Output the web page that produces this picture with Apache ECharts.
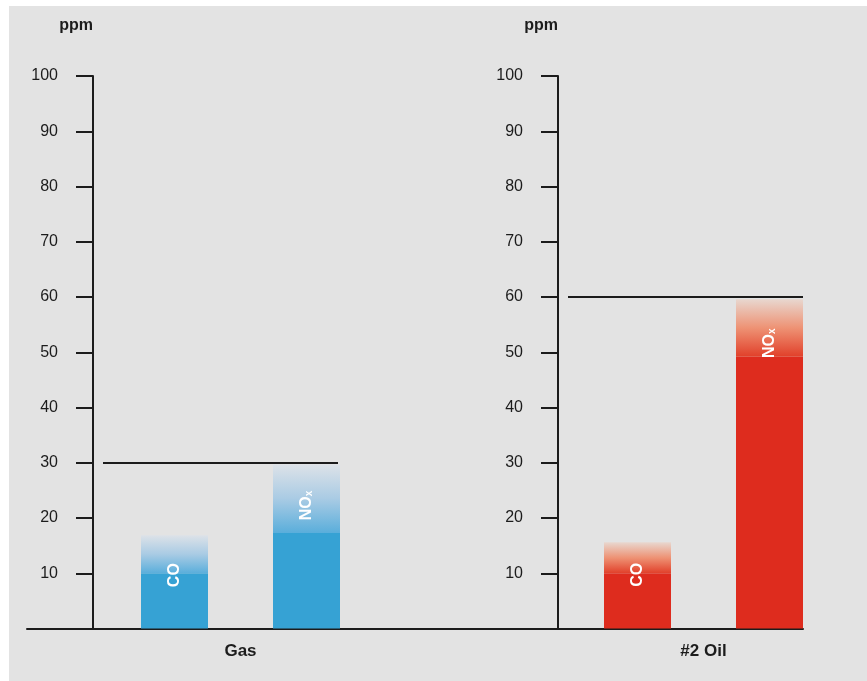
<!DOCTYPE html>
<html><head><meta charset="utf-8">
<script src="https://cdn.jsdelivr.net/npm/echarts@6/dist/echarts.min.js"></script>
<style>
html,body{margin:0;padding:0;background:#fff;}
#bg{position:absolute;left:9px;top:6px;width:858px;height:675px;background:#e3e3e3;}
#chart{position:absolute;left:0;top:0;width:867px;height:681px;}
</style></head><body>
<div id="bg"></div><div id="chart"></div>
<script>
// ---- data ----
const pollutants = ['CO', 'NOx'];
const fuels = ['Gas', '#2 Oil'];
const gasSolid = [10, 17.3];
const gasTop = [16.9, 29.7];
const oilSolid = [10, 49.2];
const oilTop = [15.6, 59.6];
const limits = [30, 60];
const unit = 'ppm';
const yMin = 0, yMax = 100, yStep = 10;

// ---- layout / style ----
const FONT = "'Liberation Sans', Arial, Helvetica, sans-serif";
const INK = '#1c1c1c';
const TOP = 76, BOTTOM = 52.5;
const panels = [
  { solid: gasSolid, top: gasTop, left: 108.5, width: 264, axisOffset: 15.5, limLeft: 103, limWidth: 235, labelY: [40, 41],
    colors: { solid: '#36a2d4', fade: ['#dde2e8', '#a9cbe4', '#5aaedb'] } },
  { solid: oilSolid, top: oilTop, left: 571.5, width: 264, axisOffset: 13.5, limLeft: 568, limWidth: 235, labelY: [32.5, 44],
    colors: { solid: '#de2c1e', fade: ['#e8d7cf', '#ee9274', '#e1402a'] } }
];

const grid = [], xAxis = [], yAxis = [], series = [];

panels.forEach((p, i) => {
  // bar grid
  const gi = grid.length;
  grid.push({ left: p.left, width: p.width, top: TOP, bottom: BOTTOM });
  xAxis.push({
    type: 'category', gridIndex: gi, data: pollutants,
    axisLine: { show: false }, axisTick: { show: false }, axisLabel: { show: false },
    name: fuels[i], nameLocation: 'middle', nameGap: 14,
    nameTextStyle: { fontFamily: FONT, fontSize: 17, fontWeight: 'bold', color: INK }
  });
  yAxis.push({
    type: 'value', gridIndex: gi, min: yMin, max: yMax, interval: yStep, offset: p.axisOffset,
    name: unit, nameLocation: 'end', nameGap: 42,
    nameTextStyle: { fontFamily: FONT, fontSize: 16, fontWeight: 'bold', color: INK, align: 'right' },
    axisLine: { show: true, lineStyle: { color: INK, width: 2 } },
    axisTick: { show: true, length: 17, lineStyle: { color: INK, width: 2 } },
    axisLabel: { margin: 35, fontFamily: FONT, fontSize: 16, color: INK, formatter: v => v === 0 ? '' : String(v) },
    splitLine: { show: false }
  });
  series.push({
    type: 'bar', xAxisIndex: gi, yAxisIndex: gi, stack: 's' + i, barWidth: 67,
    data: p.solid, itemStyle: { color: p.colors.solid }, silent: true
  });
  series.push({
    type: 'bar', xAxisIndex: gi, yAxisIndex: gi, stack: 's' + i, barWidth: 67,
    data: p.top.map((t, k) => ({
      value: +(t - p.solid[k]).toFixed(2),
      label: { position: ['50%', p.labelY[k]] }
    })),
    itemStyle: { color: new echarts.graphic.LinearGradient(0, 0, 0, 1, [
      { offset: 0, color: p.colors.fade[0] },
      { offset: 0.5, color: p.colors.fade[1] },
      { offset: 1, color: p.colors.fade[2] }
    ]) },
    label: {
      show: true, rotate: 90, align: 'center', verticalAlign: 'middle',
      color: '#fff', fontFamily: FONT, fontSize: 16, fontWeight: 'bold',
      formatter: prm => pollutants[prm.dataIndex] === 'NOx' ? '{a|NO}{b|x}' : pollutants[prm.dataIndex],
      rich: {
        a: { color: '#fff', fontFamily: FONT, fontSize: 16, fontWeight: 'bold', lineHeight: 16 },
        b: { color: '#fff', fontFamily: FONT, fontSize: 10, fontWeight: 'bold', verticalAlign: 'bottom', padding: [6, 0, 0, 0] }
      }
    },
    silent: true
  });

  // limit line grid
  const li = grid.length;
  grid.push({ left: p.limLeft, width: p.limWidth, top: TOP, bottom: BOTTOM });
  xAxis.push({ type: 'value', gridIndex: li, min: 0, max: 1, show: false });
  yAxis.push({ type: 'value', gridIndex: li, min: yMin, max: yMax, show: false });
  series.push({
    type: 'line', xAxisIndex: li, yAxisIndex: li, data: [], silent: true,
    markLine: {
      silent: true, symbol: 'none', label: { show: false },
      lineStyle: { color: INK, width: 2, type: 'solid' },
      data: [{ yAxis: limits[i] }]
    }
  });
});

// shared baseline
const bi = grid.length;
grid.push({ left: 27, right: 64, top: TOP, bottom: BOTTOM });
xAxis.push({
  type: 'value', gridIndex: bi, min: 0, max: 1,
  axisLine: { show: true, onZero: false, lineStyle: { color: INK, width: 2 } },
  axisTick: { show: false }, axisLabel: { show: false }, splitLine: { show: false }
});
yAxis.push({ type: 'value', gridIndex: bi, min: yMin, max: yMax, show: false });
series.push({ type: 'line', xAxisIndex: bi, yAxisIndex: bi, data: [], silent: true });

const chart = echarts.init(document.getElementById('chart'), null, { renderer: 'canvas' });
chart.setOption({ animation: false, backgroundColor: 'transparent', grid, xAxis, yAxis, series });
</script>
</body></html>
